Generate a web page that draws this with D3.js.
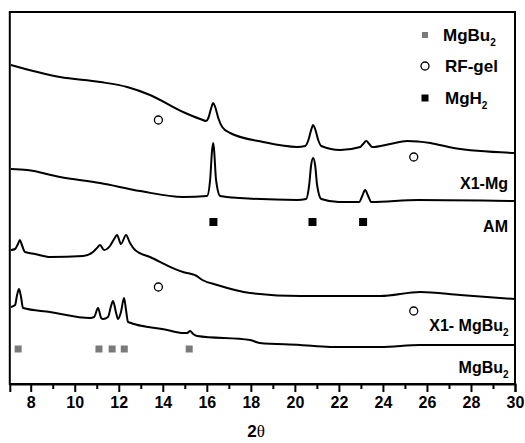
<!DOCTYPE html>
<html>
<head>
<meta charset="utf-8">
<script src="https://cdn.jsdelivr.net/npm/d3@7"></script>
<style>
  body { margin: 0; background: #fff; }
  text { font-family: "Liberation Sans", Arial, sans-serif; font-weight: bold; }
</style>
</head>
<body>
<div id="chart"></div>
<script>
// XRD patterns, [2theta, intensity (a.u., stacked)]
var x1Mg = [[7.10,319],[9.33,307],[11.15,302],[12.38,297],[13.42,289],[14.92,272],[15.70,265],[15.97,263],
  [16.07,266],[16.20,276],[16.29,281],[16.38,277],[16.52,266],[16.70,257],[17.06,251],[18.56,242],[20.10,237],
  [20.47,238],[20.60,243],[20.74,254],[20.83,259],[20.92,255],[21.06,244],[21.20,238],[22.06,234],[22.97,237],
  [23.10,240],[23.24,243],[23.38,240],[23.51,237],[24.33,240],[25.10,243],[26.15,241],[27.20,236],[30.0,231]];

var am = [[7.10,215],[7.84,214],[9.33,207],[11.15,201],[12.97,193],[14.92,187],[16.01,188],[16.15,204],
  [16.24,234],[16.29,241],[16.33,234],[16.42,204],[16.61,188],[17.5,186],[20.10,184],[20.51,185],[20.65,199],
  [20.74,219],[20.83,226],[20.92,219],[21.01,199],[21.20,185],[22.0,182],[22.92,182],[23.06,188],[23.19,194],
  [23.33,188],[23.47,182],[25.6,184],[30.0,183]];

var x1MgBu2 = [[7.10,134],[7.29,135],[7.42,140],[7.51,144],[7.60,139],[7.74,132],[8.20,130],[8.88,127],
  [10.38,128],[10.83,132],[11.01,136],[11.15,139],[11.33,134],[11.60,138],[11.79,145],[11.92,149],[12.10,140],
  [12.33,149],[12.51,141],[12.74,134],[13.42,127],[14.92,112],[15.3,110],[15.5,108.5],[15.8,104],[16.47,99],
  [17.97,91],[20.24,88],[23.88,88],[25.70,92],[27.51,89],[30.0,85]];

var mgBu2 = [[7.10,77],[7.29,79],[7.38,89],[7.47,95],[7.56,87],[7.65,76],[8.88,72],[10.70,66],[10.88,67],
  [11.06,76],[11.20,66],[11.29,65],[11.51,67],[11.65,78],[11.74,83],[11.88,71],[11.97,65],[12.10,72],
  [12.24,86],[12.33,74],[12.42,62],[14.20,54],[14.92,51],[15.11,51],[15.24,53],[15.38,50],[15.56,48],
  [17.97,44],[18.4,41],[20.24,39],[21.60,37],[23.88,37],[25.70,39],[30.0,39]];

// phase markers [2theta, intensity]
var mgBu2Marks = [[7.43,35],[11.1,35],[11.7,35],[12.25,35],[15.2,35]];
var mgH2Marks = [[16.3,162],[20.8,162],[23.1,162]];
var rfGelMarks = [[13.8,264],[25.4,227],[13.8,97],[25.4,73]];

// sample labels [name, subscript, intensity]
var sampleLabels = [["X1-Mg","",201],["AM","",158],["X1- MgBu","2",59],["MgBu","2",17]];

var majorTicks = d3.range(8, 31, 2);
var minorTicks = d3.range(9, 30, 2);

var width = 525, height = 443;
var plotLeft = 9.8, plotRight = 515, plotTop = 12, plotBottom = 384;

var svg = d3.select("#chart").append("svg")
  .attr("width", width).attr("height", height);

var x = d3.scaleLinear().domain([7.05, 30]).range([plotLeft, plotRight]);
var y = d3.scaleLinear().domain([0, 372]).range([plotBottom, plotTop]);

var line = d3.line()
  .x(function(d) { return x(d[0]); })
  .y(function(d) { return y(d[1]); })
  .curve(d3.curveMonotoneX);

// frame
svg.append("rect")
  .attr("x", plotLeft).attr("y", plotTop)
  .attr("width", plotRight - plotLeft).attr("height", plotBottom - plotTop)
  .attr("fill", "none").attr("stroke", "#000").attr("stroke-width", 2);

// curves
[x1Mg, am, x1MgBu2, mgBu2].forEach(function(s) {
  svg.append("path").datum(s)
    .attr("d", line)
    .attr("fill", "none")
    .attr("stroke", "#000")
    .attr("stroke-width", 2)
    .attr("stroke-linejoin", "round");
});

// markers
svg.selectAll(".mgbu").data(mgBu2Marks).join("rect")
  .attr("x", function(d) { return x(d[0]) - 3.5; })
  .attr("y", function(d) { return y(d[1]) - 3.5; })
  .attr("width", 7).attr("height", 7)
  .attr("fill", "#7a7a7a");

svg.selectAll(".mgh").data(mgH2Marks).join("rect")
  .attr("x", function(d) { return x(d[0]) - 4; })
  .attr("y", function(d) { return y(d[1]) - 4; })
  .attr("width", 8).attr("height", 8)
  .attr("fill", "#000");

svg.selectAll(".rf").data(rfGelMarks).join("circle")
  .attr("cx", function(d) { return x(d[0]); })
  .attr("cy", function(d) { return y(d[1]); })
  .attr("r", 4)
  .attr("fill", "#fff").attr("stroke", "#000").attr("stroke-width", 1.3);

// sample labels
sampleLabels.forEach(function(l) {
  svg.append("text")
    .attr("x", l[1] ? plotRight - 12 : plotRight - 7)
    .attr("y", y(l[2]) + 6)
    .attr("text-anchor", "end")
    .style("font-size", "16px")
    .text(l[0]);
  if (l[1]) {
    svg.append("text")
      .attr("x", plotRight - 12).attr("y", y(l[2]) + 11)
      .style("font-size", "10px")
      .text(l[1]);
  }
});

// legend
var legend = svg.append("g").attr("transform", "translate(425,35)");
legend.append("rect").attr("x", -3).attr("y", -3).attr("width", 6).attr("height", 6).attr("fill", "#7a7a7a");
legend.append("circle").attr("cx", 0).attr("cy", 31).attr("r", 4)
  .attr("fill", "#fff").attr("stroke", "#000").attr("stroke-width", 1.3);
legend.append("rect").attr("x", -3.5).attr("y", 59.5).attr("width", 7).attr("height", 7).attr("fill", "#000");
var lg = legend.append("text").attr("x", 18).attr("y", 6).style("font-size", "17px");
lg.append("tspan").text("MgBu");
lg.append("tspan").attr("dy", 5).style("font-size", "10px").text("2");
legend.append("text").attr("x", 20).attr("y", 37).style("font-size", "17px").text("RF-gel");
var lh = legend.append("text").attr("x", 20).attr("y", 69).style("font-size", "17px");
lh.append("tspan").text("MgH");
lh.append("tspan").attr("dy", 5).style("font-size", "10px").text("2");

// x axis
var axis = svg.append("g").attr("transform", "translate(0," + plotBottom + ")")
  .call(d3.axisBottom(x).tickValues(majorTicks).tickSize(8).tickPadding(5).tickFormat(d3.format("d")));
axis.select(".domain").attr("stroke-width", 2);
axis.selectAll(".tick line").attr("stroke-width", 2);
axis.selectAll(".tick text").style("font-size", "16px")
  .style("font-family", "'Liberation Sans', Arial, sans-serif").style("font-weight", "bold");

svg.append("g").attr("transform", "translate(0," + plotBottom + ")")
  .call(d3.axisBottom(x).tickValues(minorTicks).tickSize(5).tickFormat(""))
  .call(function(g) { g.select(".domain").remove(); })
  .selectAll(".tick line").attr("stroke-width", 2);

// axis title
var title = svg.append("text").attr("x", 256).attr("y", 437)
  .attr("text-anchor", "middle").style("font-size", "17px");
title.append("tspan").text("2");
title.append("tspan").style("font-family", "'Liberation Serif', 'Times New Roman', serif").style("font-weight", "normal").text("θ");
</script>
</body>
</html>
